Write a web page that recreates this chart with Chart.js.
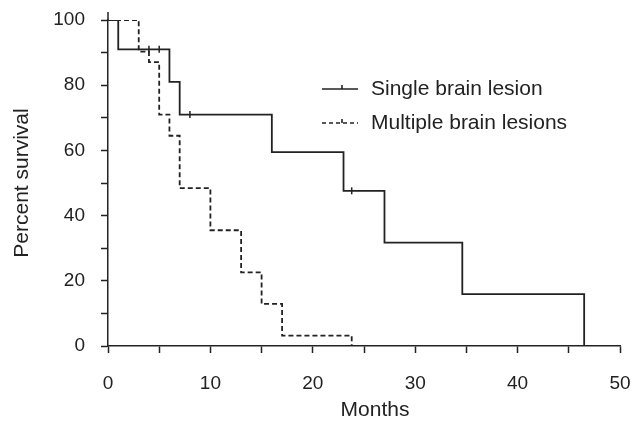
<!DOCTYPE html>
<html>
<head>
<meta charset="utf-8">
<script src="https://cdn.jsdelivr.net/npm/chart.js@4.4.1/dist/chart.umd.min.js"></script>
<style>
  html, body { margin: 0; padding: 0; background: #fff; }
  #wrap { width: 644px; height: 421px; }
</style>
</head>
<body>
<div id="wrap"><canvas id="grafico" width="644" height="421"></canvas></div>
<script>
// Kaplan-Meier steps
const singleMonths = [0, 1, 6, 7, 16, 23, 27, 34.6, 46.5];
const singleSurvival = [100, 91, 81, 71, 59.5, 47.6, 31.7, 15.9, 0];
const multipleMonths = [0, 3, 4, 5, 6, 7, 10, 13, 15, 17, 23.8];
const multipleSurvival = [100, 90.3, 87.1, 71, 64.5, 48.4, 35.5, 22.6, 12.9, 3.2, 0];

// censored observations (small vertical ticks)
const singleCensorMonths = [4, 5, 8, 23.8];
const singleCensorSurvival = [91, 91, 71, 47.6];

const xTicks = [0, 10, 20, 30, 40, 50];
const yTicks = [0, 20, 40, 60, 80, 100];

const seriesNames = ['Single brain lesion', 'Multiple brain lesions'];

const ink = '#222';
const fontFamily = '"Liberation Sans", Arial, Helvetica, sans-serif';

function toPoints(xs, ys) {
    return xs.map((x, i) => ({ x: x, y: ys[i] }));
}

const legendInside = {
    id: 'legendInside',
    afterDraw(chart) {
        const c = chart.ctx;
        const a = chart.chartArea;
        const rows = [
            { y: 89, dash: [] },
            { y: 123, dash: [4, 3] }
        ];
        c.save();
        c.strokeStyle = ink;
        c.fillStyle = ink;
        c.lineWidth = 1.6;
        rows.forEach((r, i) => {
            c.setLineDash(r.dash);
            c.beginPath();
            c.moveTo(322, r.y);
            c.lineTo(358, r.y);
            c.stroke();
            c.setLineDash([]);
            c.beginPath();
            c.moveTo(342, r.y - 4);
            c.lineTo(342, r.y);
            c.stroke();
            c.font = '21px ' + fontFamily;
            c.textBaseline = 'middle';
            c.textAlign = 'left';
            c.fillText(seriesNames[i], 371, r.y);
        });
        // y axis runs a little past 100 in the original
        c.lineWidth = 1.5;
        c.beginPath();
        c.moveTo(a.left, a.top - 8);
        c.lineTo(a.left, a.top);
        c.stroke();
        // x axis title, sits a bit right of centre in the original
        c.textAlign = 'center';
        c.fillText('Months', 375, 410);
        c.restore();
    }
};

new Chart(document.getElementById('grafico'), {
    type: 'line',
    data: {
        datasets: [
            {
                label: seriesNames[1],
                data: toPoints(multipleMonths, multipleSurvival),
                stepped: 'before',
                borderColor: ink,
                borderWidth: 1.8,
                borderDash: [5, 3],
                pointRadius: 0,
                fill: false
            },
            {
                label: seriesNames[0],
                data: toPoints(singleMonths, singleSurvival),
                stepped: 'before',
                borderColor: ink,
                borderWidth: 1.8,
                pointRadius: 0,
                fill: false
            },
            {
                label: 'censored',
                data: toPoints(singleCensorMonths, singleCensorSurvival),
                showLine: false,
                pointStyle: 'line',
                rotation: 90,
                pointRadius: 3.5,
                pointBorderWidth: 1.5,
                pointBorderColor: ink
            }
        ]
    },
    options: {
        responsive: false,
        animation: false,
        layout: { padding: { top: 20, right: 24, left: 0, bottom: 0 } },
        plugins: {
            legend: { display: false },
            tooltip: { enabled: false }
        },
        scales: {
            x: {
                type: 'linear',
                min: 0,
                max: 50,
                afterFit: (s) => {
                    s.height = 75;
                    s.paddingLeft = 0;
                    s.paddingRight = 0;
                },
                afterBuildTicks: (s) => {
                    const t = [];
                    for (let v = 0; v <= 50; v += 5) t.push({ value: v });
                    s.ticks = t;
                },
                ticks: {
                    color: ink,
                    padding: 19,
                    maxRotation: 0,
                    font: { size: 19, family: fontFamily },
                    callback: (v) => xTicks.includes(v) ? v : ''
                },
                grid: { drawOnChartArea: false, tickLength: 7, tickColor: ink, tickWidth: 1.5 },
                border: { color: ink, width: 1.5 }
            },
            y: {
                min: 0,
                max: 100,
                afterFit: (s) => {
                    s.width = 108;
                    s.paddingTop = 0;
                    s.paddingBottom = 0;
                },
                afterBuildTicks: (s) => {
                    const t = [];
                    for (let v = 0; v <= 100; v += 10) t.push({ value: v });
                    s.ticks = t;
                },
                ticks: {
                    color: ink,
                    padding: 16,
                    font: { size: 19, family: fontFamily },
                    callback: (v) => yTicks.includes(v) ? v : ''
                },
                grid: { drawOnChartArea: false, tickLength: 7, tickColor: ink, tickWidth: 1.5 },
                border: { color: ink, width: 1.5 },
                title: {
                    display: true,
                    text: 'Percent survival',
                    color: ink,
                    font: { size: 21, family: fontFamily },
                    padding: { top: 10, bottom: 0 }
                }
            }
        }
    },
    plugins: [legendInside]
});
</script>
</body>
</html>
